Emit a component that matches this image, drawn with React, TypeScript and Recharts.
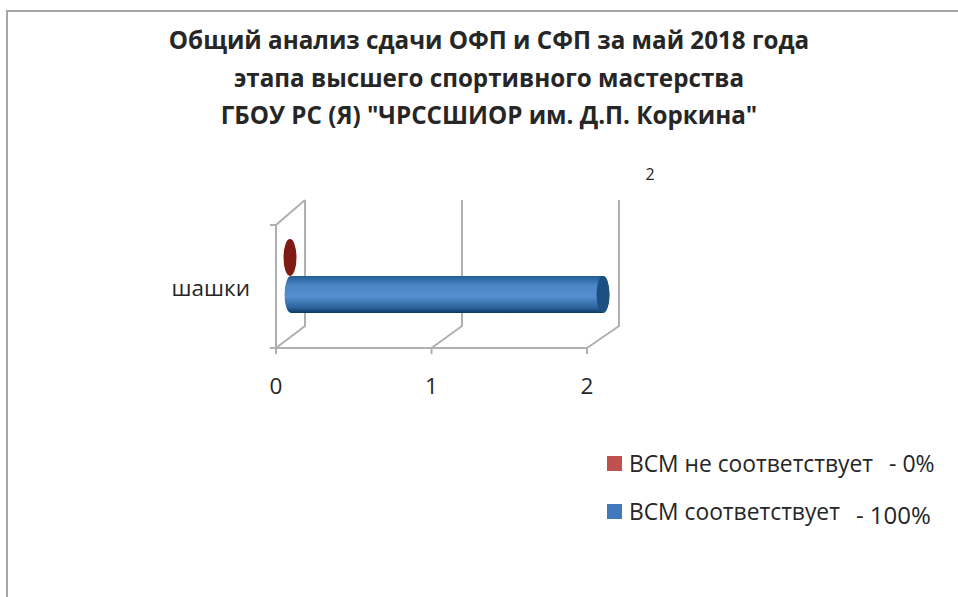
import { BarChart, Bar, XAxis, YAxis, CartesianGrid, Legend, LabelList } from 'recharts';

const CATEGORIES = ['шашки'];
const NOT_MATCHING = [0];
const MATCHING = [2];
const X_TICKS = [0, 1, 2];
const TITLE_LINES = [
    'Общий анализ сдачи ОФП и СФП за май 2018 года',
    'этапа высшего спортивного мастерства',
    'ГБОУ РС (Я) "ЧРССШИОР им. Д.П. Коркина"',
];
const SERIES_NAMES = ['ВСМ не соответствует', 'ВСМ соответствует'];
const SERIES_SUFFIX = ['- 0%', '- 100%'];

const chartData = CATEGORIES.map((name, i) => ({
    name,
    notMatching: NOT_MATCHING[i],
    matching: MATCHING[i],
}));

const FONT = '"Open Sans", sans-serif';
const GRID = '#b0b0b0';
const TEXT = '#262626';
// 3d look: the back wall is shifted from the front plane
const DEPTH_X = 29;
const DEPTH_Y = 22;
const BAR_SHIFT_X = 15;
const BAR_SHIFT_Y = 11;

function GridLine(props: any) {
    const { x1, y1, x2, y2, index } = props;
    const bx = x1 + DEPTH_X + index * 1.5;
    const top = y1 - DEPTH_Y - 3;
    return (
        <g fill="none" stroke={GRID} strokeWidth={2}>
            <polyline points={`${x1},${y2} ${bx},${y2 - DEPTH_Y} ${bx},${top}`} />
            {index === 0 && (
                <>
                    <polyline points={`${bx},${top} ${x1},${y1} ${x1},${y2}`} />
                    <line x1={x1 - 6} y1={y1} x2={x1} y2={y1} />
                    <line x1={x1 - 6} y1={y2} x2={x1} y2={y2} />
                </>
            )}
        </g>
    );
}

function Cylinder(props: any) {
    const { x, y, width, height, capFill, bodyFill } = props;
    const rx = 6.5;
    const ry = height / 2;
    const cy = y + ry - BAR_SHIFT_Y;
    const start = x + BAR_SHIFT_X;
    const end = start + width + 1;
    if (width <= 0) {
        return <ellipse cx={start - 1} cy={cy} rx={rx} ry={ry} fill={capFill} />;
    }
    const body = `M${start},${cy - ry} L${end},${cy - ry} A${rx},${ry} 0 0 1 ${end},${cy + ry} L${start},${cy + ry} A${rx},${ry} 0 0 1 ${start},${cy - ry} Z`;
    return (
        <g>
            <path d={body} fill={bodyFill} />
            <ellipse cx={end} cy={cy} rx={rx} ry={ry} fill={capFill} />
        </g>
    );
}

function ValueLabel(props: any) {
    const { x, y, width, value } = props;
    return (
        <text x={x + width + 63} y={y - 107} textAnchor="middle" fontFamily={FONT} fontSize={16} fill={TEXT}>
            {value}
        </text>
    );
}

function LegendBox({ payload }: any) {
    return (
        <div>
            {(payload || []).map((item: any, i: number) => (
                <div
                    key={item.value}
                    style={{ position: 'absolute', left: 0, top: i * 48, height: 24, display: 'flex', alignItems: 'center', whiteSpace: 'nowrap', fontFamily: FONT, color: TEXT }}
                >
                    <span style={{ width: 15, height: 15, background: item.color, marginRight: 7 }} />
                    <span style={{ fontSize: 22.8 }}>{item.value}</span>
                    <span style={{ fontSize: i === 0 ? 23 : 24, marginLeft: 16, marginTop: i === 0 ? 0 : 6 }}>{SERIES_SUFFIX[i]}</span>
                </div>
            ))}
        </div>
    );
}

export default function App() {
    return (
        <div style={{ position: 'absolute', left: 0, top: 0, width: 958, height: 597, background: '#fff', overflow: 'hidden' }}>
            <div style={{ position: 'absolute', left: 6, top: 10, width: 960, height: 600, borderLeft: '2px solid #a6a6a6', borderTop: '2px solid #a6a6a6' }} />
            <div style={{ position: 'absolute', left: 0, top: 21, width: 978, textAlign: 'center', fontFamily: FONT, fontWeight: 700, fontSize: 24.2, lineHeight: '37.5px', color: TEXT }}>
                {TITLE_LINES.map((line) => (
                    <div key={line}>{line}</div>
                ))}
            </div>
            <BarChart
                width={958}
                height={597}
                data={chartData}
                layout="vertical"
                barSize={37}
                barGap={0}
                margin={{ top: 225, right: 371, bottom: 119, left: 0 }}
                style={{ position: 'absolute', left: 0, top: 0 }}
            >
                <defs>
                    <linearGradient id="blueBody" x1="0" y1="0" x2="0" y2="1">
                        <stop offset="0%" stopColor="#215d94" />
                        <stop offset="25%" stopColor="#4a85c4" />
                        <stop offset="55%" stopColor="#558fd0" />
                        <stop offset="85%" stopColor="#2c649c" />
                        <stop offset="100%" stopColor="#0b3a63" />
                    </linearGradient>
                </defs>
                <CartesianGrid horizontal={false} vertical={<GridLine />} />
                <XAxis
                    type="number"
                    domain={[0, 2]}
                    ticks={X_TICKS}
                    axisLine={{ stroke: GRID, strokeWidth: 2 }}
                    tickLine={{ stroke: GRID, strokeWidth: 2 }}
                    tickSize={6}
                    tickMargin={24}
                    height={50}
                    tick={{ fontFamily: FONT, fontSize: 22.5, fill: TEXT }}
                />
                <YAxis
                    type="category"
                    dataKey="name"
                    width={276}
                    axisLine={false}
                    tickLine={false}
                    tickSize={0}
                    tickMargin={26}
                    tick={{ fontFamily: FONT, fontSize: 22.5, fill: TEXT, dy: 2 }}
                />
                <Legend
                    layout="vertical"
                    content={<LegendBox />}
                    wrapperStyle={{ position: 'absolute', left: 607, top: 451, width: 340, height: 80 }}
                />
                <Bar
                    dataKey="notMatching"
                    name={SERIES_NAMES[0]}
                    fill="#c0504d"
                    isAnimationActive={false}
                    shape={<Cylinder capFill="#7f1a14" bodyFill="#7f1a14" />}
                />
                <Bar
                    dataKey="matching"
                    name={SERIES_NAMES[1]}
                    fill="#4178bb"
                    isAnimationActive={false}
                    shape={<Cylinder capFill="#1c4f82" bodyFill="url(#blueBody)" />}
                >
                    <LabelList dataKey="matching" content={<ValueLabel />} />
                </Bar>
            </BarChart>
        </div>
    );
}
